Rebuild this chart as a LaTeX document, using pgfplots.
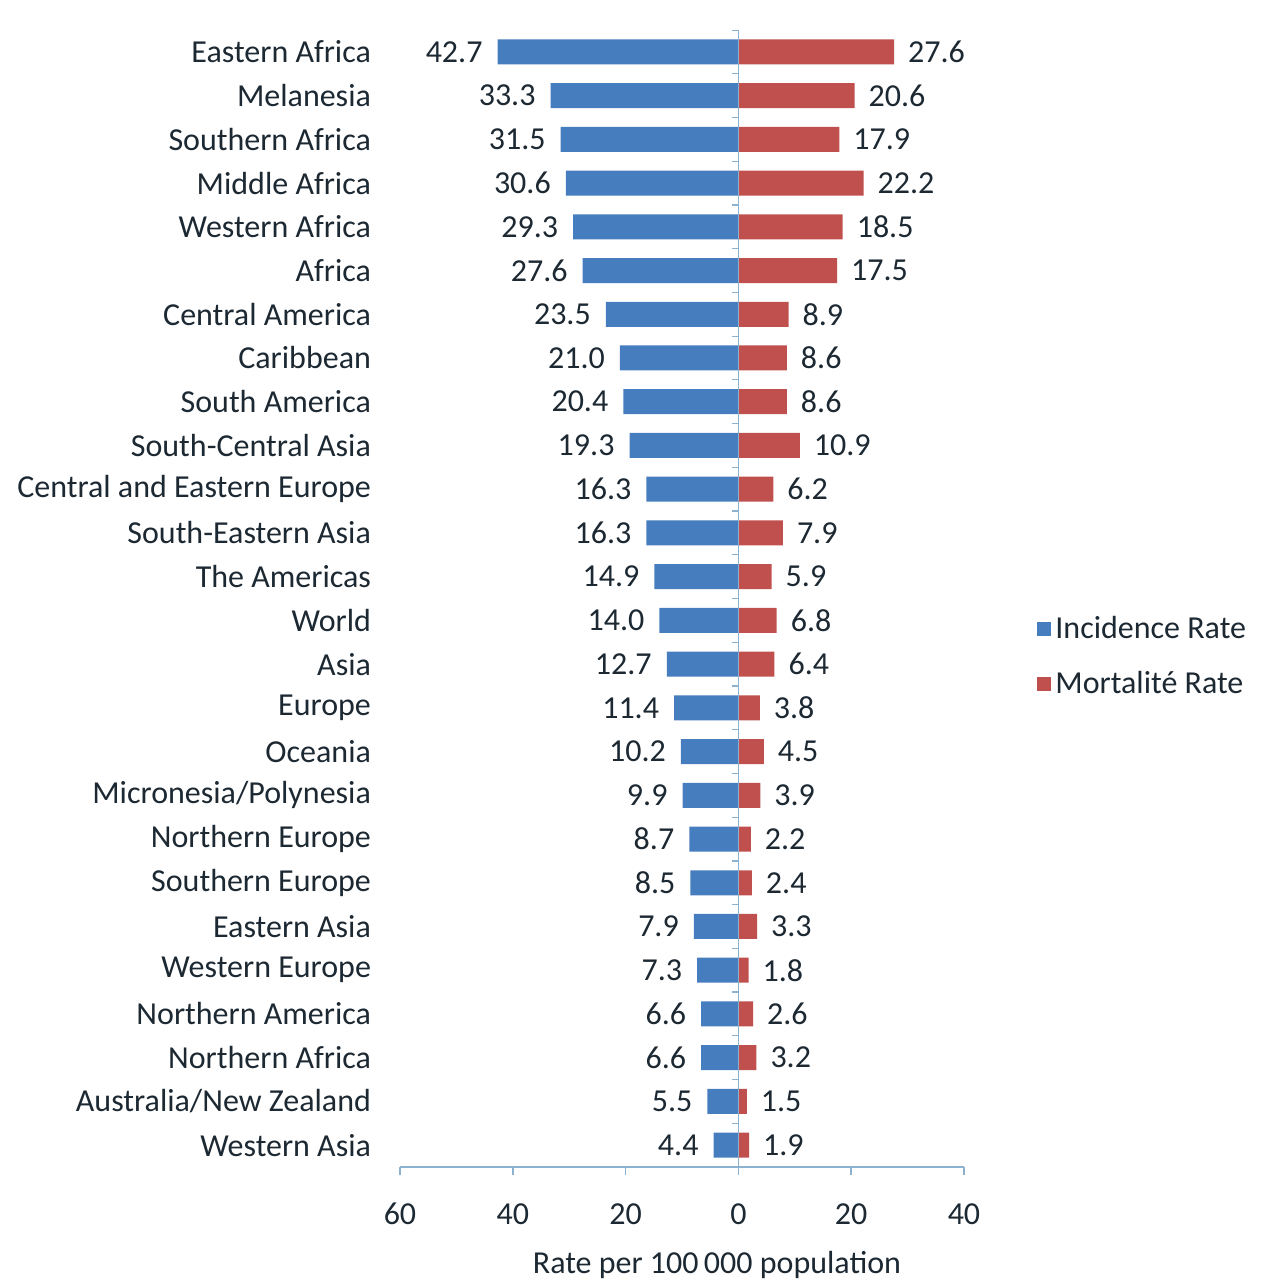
\documentclass[border=0pt]{standalone}
\usepackage{fontspec}
\setmainfont{Carlito}
\usepackage{pgfplots}
\pgfplotsset{compat=1.18}
\usepackage{pgfplotstable}

\definecolor{incblue}{RGB}{70,125,190}
\definecolor{mortred}{RGB}{192,80,77}
\definecolor{txt}{RGB}{28,40,50}
\definecolor{axcol}{RGB}{140,178,208}

% rates per 100 000, one row per region (top to bottom)
\pgfplotstableread{
idx inc  mort
0   42.7 27.6
1   33.3 20.6
2   31.5 17.9
3   30.6 22.2
4   29.3 18.5
5   27.6 17.5
6   23.5 8.9
7   21.0 8.6
8   20.4 8.6
9   19.3 10.9
10  16.3 6.2
11  16.3 7.9
12  14.9 5.9
13  14.0 6.8
14  12.7 6.4
15  11.4 3.8
16  10.2 4.5
17  9.9  3.9
18  8.7  2.2
19  8.5  2.4
20  7.9  3.3
21  7.3  1.8
22  6.6  2.6
23  6.6  3.2
24  5.5  1.5
25  4.4  1.9
}\ratedata

\begin{document}
\begin{tikzpicture}
\begin{axis}[
    scale only axis,
    width=282pt, height=568.5pt,
    xmin=-60, xmax=40,
    ymin=-0.5, ymax=25.5,
    y dir=reverse,
    xbar, bar width=12.5pt, bar shift=0pt,
    axis x line*=bottom, axis y line*=left,
    x axis line style={axcol, line width=0.8pt},
    y axis line style={draw=none},
    xtick={-60,-40,...,40},
    xticklabels={60,40,20,0,20,40},
    ytick={0,...,25},
    yticklabels={Eastern Africa,Melanesia,Southern Africa,Middle Africa,Western Africa,Africa,Central America,Caribbean,South America,South-Central Asia,Central and Eastern Europe,South-Eastern Asia,The Americas,World,Asia,Europe,Oceania,Micronesia/Polynesia,Northern Europe,Southern Europe,Eastern Asia,Western Europe,Northern America,Northern Africa,Australia/New Zealand,Western Asia},
    tick align=outside, major tick length=4pt,
    xtick style={axcol, line width=0.8pt},
    ytick style={draw=none},
    /pgf/number format/assume math mode=true,
    ticklabel style={font=\fontsize{16}{19}\selectfont, text=txt},
    yticklabel style={xshift=-7pt},
    xticklabel style={anchor=base, yshift=-24.5pt},
    xlabel={Rate per 100\,000 population},
    xlabel style={at={(axis description cs:0.562,0)}, anchor=base, yshift=-53pt,
        font=\fontsize{16}{19}\selectfont, text=txt},
    legend style={at={(axis description cs:1,0.449)}, anchor=west, xshift=33.5pt,
        draw=none, fill=none, font=\fontsize{16}{19}\selectfont, text=txt,
        row sep=11pt, cells={anchor=west}},
    legend image code/.code={\fill[#1] (0pt,-3.5pt) rectangle (7pt,3.5pt);},
    point meta=explicit,
    nodes near coords={\pgfmathprintnumber[fixed,fixed zerofill,precision=1]{\pgfplotspointmeta}},
    nodes near coords style={font=\fontsize{16}{19}\selectfont, text=txt},
]
\addplot[fill=incblue, draw=none,
    every node near coord/.append style={anchor=east, xshift=-4pt}]
    table[x expr=-\thisrow{inc}, y=idx, meta=inc]{\ratedata};
\addlegendentry{Incidence Rate}
\addplot[fill=mortred, draw=none,
    every node near coord/.append style={anchor=west, xshift=3.5pt}]
    table[x=mort, y=idx, meta=mort]{\ratedata};
\addlegendentry{Mortalité Rate}
\draw[axcol, line width=0.8pt] (axis cs:0,-0.5) -- (axis cs:0,25.5);
\pgfplotsinvokeforeach{0,...,25}{\draw[axcol, line width=0.6pt] ([xshift=-3pt]axis cs:0,#1-0.5) -- (axis cs:0,#1-0.5);}
\coordinate (SW) at (axis description cs:0,0);
\coordinate (NE) at (axis description cs:1,1);
\end{axis}
\pgfresetboundingbox
\path[use as bounding box] ([xshift=-200pt,yshift=-57.5pt]SW) rectangle ([xshift=148.5pt,yshift=15pt]NE);
\end{tikzpicture}
\end{document}
